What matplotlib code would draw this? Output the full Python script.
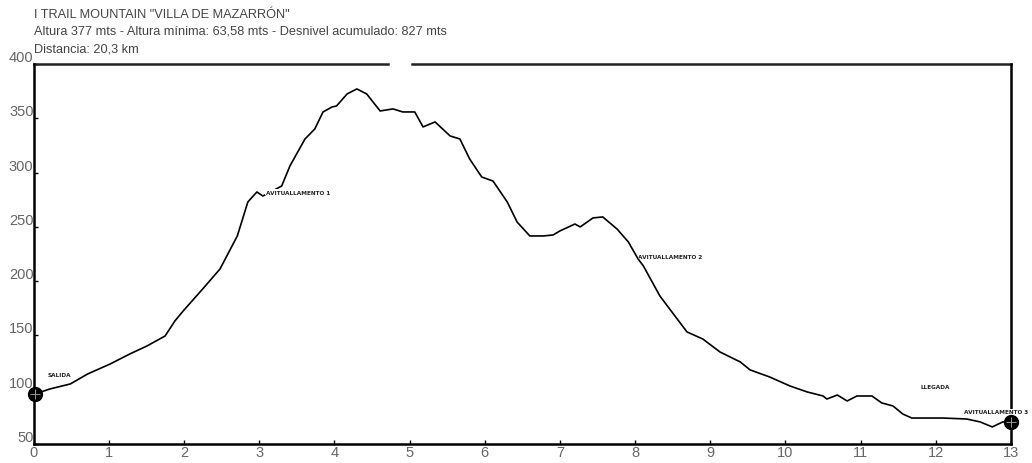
import numpy as np
import matplotlib
matplotlib.use('Agg')
import matplotlib.pyplot as plt

# profile: distance (km) and altitude (m)
dist_km = [0.02, 0.22, 0.49, 0.72, 1.02, 1.28, 1.51, 1.75, 1.88, 1.99, 2.25, 2.48, 2.71, 2.85,
           2.97, 3.05, 3.30, 3.41, 3.61, 3.74, 3.85, 3.97, 4.03, 4.17, 4.30, 4.43, 4.61, 4.78,
           4.91, 5.07, 5.18, 5.34, 5.54, 5.67, 5.80, 5.96, 6.11, 6.30, 6.43, 6.60, 6.78, 6.91,
           7.00, 7.20, 7.27, 7.44, 7.57, 7.76, 7.91, 8.04, 8.11, 8.33, 8.46, 8.69, 8.90, 9.13,
           9.40, 9.53, 9.79, 10.06, 10.29, 10.50, 10.55, 10.69, 10.82, 10.95, 11.15, 11.28,
           11.43, 11.56, 11.68, 11.83, 12.09, 12.41, 12.59, 12.75, 12.89, 13.0]
alt_m = [96.1, 100.7, 105.3, 114.5, 123.7, 132.9, 140.3, 149.5, 163.3, 172.5, 192.8, 211.2,
         241.6, 272.9, 282.1, 278.4, 287.6, 306.1, 330.9, 340.1, 355.8, 360.4, 361.3, 372.4,
         377.0, 372.4, 356.7, 358.6, 355.8, 355.8, 342.0, 346.6, 333.7, 330.9, 312.5, 295.9,
         292.2, 272.9, 254.5, 241.6, 241.6, 242.5, 246.2, 252.6, 249.9, 258.2, 259.1, 248.0,
         236.1, 220.4, 214.0, 186.3, 174.3, 153.2, 146.7, 134.7, 125.5, 118.2, 111.7, 103.4,
         97.9, 94.2, 91.4, 95.1, 89.6, 94.2, 94.2, 87.8, 85.0, 77.6, 73.9, 73.9, 73.9, 73.0,
         70.3, 65.7, 70.3, 70.3]

# waypoints: name, km, altitude of the label
wp_names = ['SALIDA', 'AVITUALLAMENTO 1', 'AVITUALLAMENTO 2', 'LLEGADA', 'AVITUALLAMENTO 3']
wp_km = [0.35, 3.09, 8.04, 11.99, 12.80]
wp_alt = [113.6, 282.0, 223.0, 102.5, 79.5]
wp_ha = ['center', 'left', 'left', 'center', 'center']

title_lines = ['I TRAIL MOUNTAIN "VILLA DE MAZARRÓN"',
               'Altura 377 mts - Altura mínima: 63,58 mts - Desnivel acumulado: 827 mts',
               'Distancia: 20,3 km']

x_ticks = list(range(0, 14))
y_ticks = list(range(50, 401, 50))

plt.rcParams['font.family'] = ['Liberation Sans', 'DejaVu Sans']

fig = plt.figure(figsize=(10.32, 4.64), dpi=100)
ax = fig.add_axes([0.0325, 0.041, 0.9472, 0.819])

ax.plot(dist_km, alt_m, color='black', lw=1.2, zorder=2)

# start / finish markers
for i in [0, -1]:
    ax.plot(dist_km[i], alt_m[i], 'o', ms=10, color='black', zorder=4, clip_on=False)
    ax.plot(dist_km[i], alt_m[i], '+', ms=7, mew=0.7, color='#999999', zorder=5, clip_on=False)

for name, k, a, ha in zip(wp_names, wp_km, wp_alt, wp_ha):
    ax.text(k, a, name, ha=ha, va='center', fontsize=4.6, fontweight='bold',
            family=['Liberation Sans Narrow', 'DejaVu Sans'], fontstretch='condensed',
            color='#222222', zorder=3,
            bbox=dict(facecolor='white', edgecolor='none', pad=0.3), clip_on=False)

ax.set_xlim(0, 13)
ax.set_ylim(50, 400)
ax.set_xticks(x_ticks)
ax.set_yticks(y_ticks)
ax.tick_params(direction='in', length=3, width=1, colors='black', labelcolor='#666666',
               labelsize=10.5, pad=1)
for lab in ax.get_yticklabels():
    lab.set_verticalalignment('bottom')
ax.tick_params(axis='y', pad=0)

for s in ['left', 'bottom', 'right']:
    ax.spines[s].set_linewidth(1.8)
ax.spines['top'].set_visible(False)
# top border with a small gap
ax.plot([0, 0.363], [1, 1], transform=ax.transAxes, color='#222222', lw=1.8, clip_on=False)
ax.plot([0.387, 1], [1, 1], transform=ax.transAxes, color='#222222', lw=1.8, clip_on=False)

for i, t in enumerate(title_lines):
    fig.text(0.033, 1 - (15 + 17 * i) / 464, t, fontsize=9.2, color='#444444',
             ha='left', va='center')

plt.savefig('out.png', dpi=100)
